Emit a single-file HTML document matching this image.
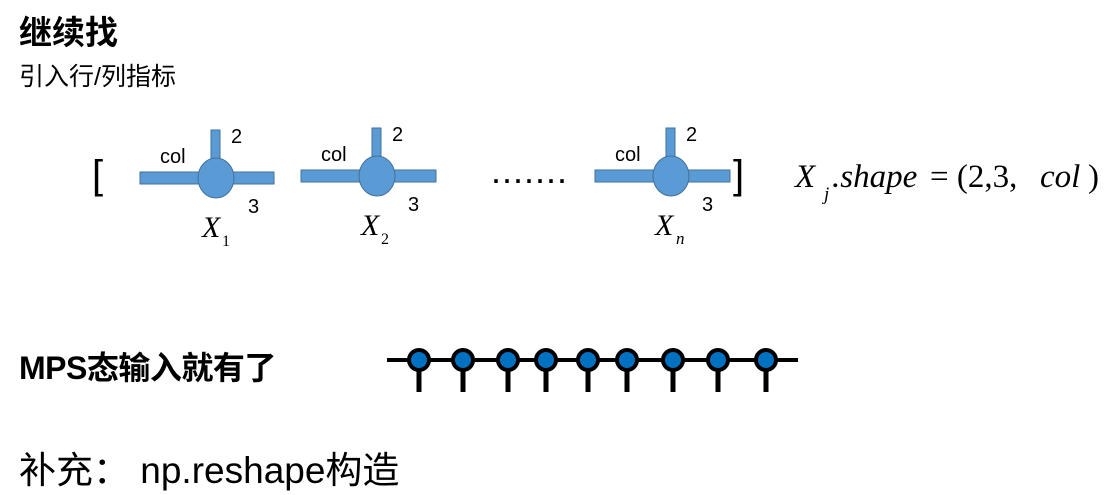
<!DOCTYPE html>
<html><head><meta charset="utf-8"><style>
body{margin:0;width:1108px;height:495px;background:#fff;position:relative;overflow:hidden;font-family:"Liberation Sans","Noto Sans CJK SC",sans-serif}
.t{position:absolute;white-space:nowrap}
</style></head><body>
<div class="t" style="left:19px;top:6px;font-size:33px;font-weight:bold">继续找</div>
<div class="t" style="left:19px;top:57px;font-size:25px">引入行/列指标</div>
<div class="t" style="left:19px;top:343px;font-size:32px;font-weight:bold;letter-spacing:-0.5px">MPS态输入就有了</div>
<div class="t" style="left:19px;top:440px;font-size:37px">补充： np.reshape构造</div>
<svg width="1108" height="495" style="position:absolute;left:0;top:0">
<g font-family="Liberation Sans,sans-serif" fill="#000">
<text x="92" y="188" font-size="40">[</text>
<text x="733" y="188" font-size="40">]</text>
<text x="491" y="183" font-size="36" letter-spacing="1">.......</text>
</g>
<g fill="#5b9bd5" stroke="#41719c" stroke-width="1">
<rect x="140" y="172" width="134" height="12"/><rect x="211" y="130" width="9" height="30"/><ellipse cx="216" cy="178" rx="18" ry="20"/>
<rect x="301" y="170" width="135" height="12"/><rect x="372" y="128" width="9" height="30"/><ellipse cx="377" cy="176" rx="18" ry="20"/>
<rect x="595" y="170" width="135" height="12"/><rect x="666" y="128" width="9" height="30"/><ellipse cx="671" cy="176" rx="18" ry="20"/>
</g>
<g font-family="Liberation Sans,sans-serif" font-size="20">
<text x="160" y="163">col</text><text x="231" y="143">2</text><text x="248" y="213">3</text>
<text x="321" y="161">col</text><text x="392" y="141">2</text><text x="408" y="211">3</text>
<text x="615" y="161">col</text><text x="686" y="141">2</text><text x="702" y="211">3</text>
</g>
<g font-family="Liberation Serif,serif" font-style="italic" font-size="30">
<text x="202" y="237">X</text><text x="222" y="246" font-size="16" font-style="normal">1</text>
<text x="361" y="235">X</text><text x="381" y="244" font-size="16" font-style="normal">2</text>
<text x="655" y="235">X</text><text x="676" y="244" font-size="17">n</text>
<g font-size="33">
<text x="795" y="187">X</text>
<text x="824" y="200" font-size="19">j</text>
<text x="832" y="187">.shape</text>
<text x="930" y="187" font-style="normal">= (2,3,</text>
<text x="1040" y="187">col</text>
<text x="1088" y="187" font-style="normal">)</text>
</g>
</g>
<line x1="387" y1="360" x2="798" y2="360" stroke="#000" stroke-width="4"/>
<g stroke="#000">
<g stroke-width="5">
<line x1="419" y1="360" x2="419" y2="392"/><line x1="463" y1="360" x2="463" y2="392"/><line x1="508" y1="360" x2="508" y2="392"/><line x1="546" y1="360" x2="546" y2="392"/><line x1="588" y1="360" x2="588" y2="392"/><line x1="627" y1="360" x2="627" y2="392"/><line x1="673" y1="360" x2="673" y2="392"/><line x1="718" y1="360" x2="718" y2="392"/><line x1="766" y1="360" x2="766" y2="392"/>
</g>
<g fill="#0070c0" stroke-width="4">
<circle cx="419" cy="360" r="10"/><circle cx="463" cy="360" r="10"/><circle cx="508" cy="360" r="10"/><circle cx="546" cy="360" r="10"/><circle cx="588" cy="360" r="10"/><circle cx="627" cy="360" r="10"/><circle cx="673" cy="360" r="10"/><circle cx="718" cy="360" r="10"/><circle cx="766" cy="360" r="10"/>
</g></g>
</svg>
</body></html>
